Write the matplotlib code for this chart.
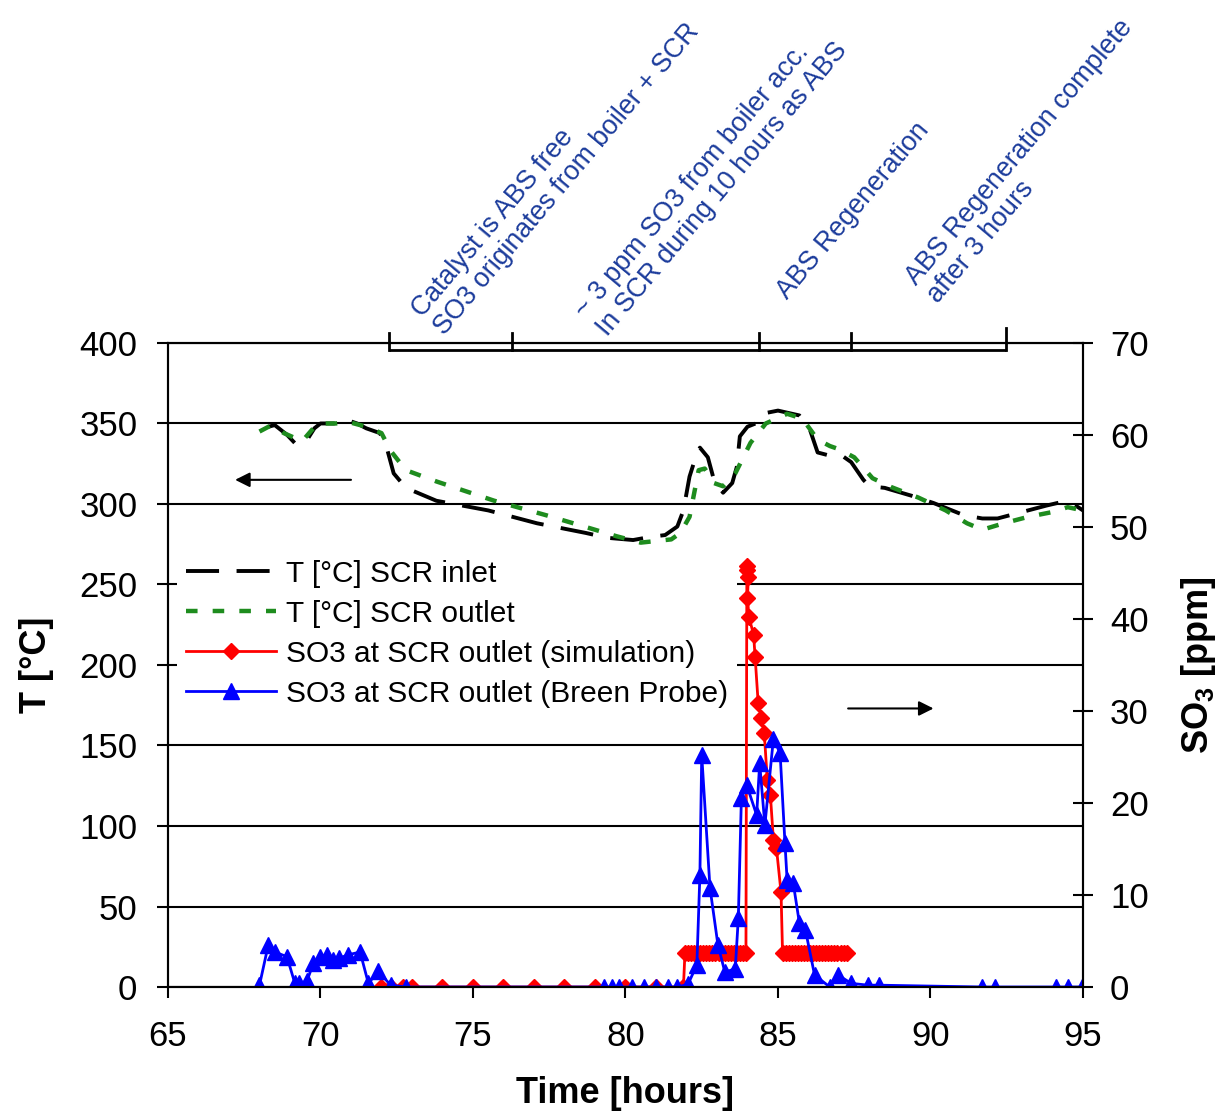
import matplotlib
matplotlib.use("Agg")
import matplotlib.pyplot as plt

plt.rcParams['font.family'] = ['Liberation Sans', 'DejaVu Sans']
plt.rcParams['mathtext.fontset'] = 'custom'
plt.rcParams['mathtext.rm'] = 'Liberation Sans'
plt.rcParams['mathtext.bf'] = 'Liberation Sans:bold'

# SCR inlet temperature [°C]
t_in_h = [68.3, 68.5, 68.9, 69.2, 69.5, 69.8, 70.0, 70.5, 70.9, 71.2, 71.5, 71.95,
          72.2, 72.4, 72.8, 73.8, 75.5, 77.1, 78.7, 79.4, 80.25, 80.8, 81.3, 81.7,
          81.9, 82.1, 82.3, 82.44, 82.7, 82.9, 83.2, 83.5, 83.65, 83.75, 84.0, 84.4,
          84.6, 85.0, 85.7, 86.05, 86.3, 86.7, 87.1, 87.4, 87.8, 88.0, 88.5, 89.4,
          90.1, 91.1, 91.7, 92.2, 93.2, 93.8, 94.25, 94.6, 95.0]
t_in = [348, 349, 343, 337, 338, 347, 350, 350, 352, 350, 347, 344,
        333, 319, 310, 302, 296, 288, 282, 279, 277.6, 279.5, 280.7, 286,
        296, 317, 329, 335, 329, 315, 307, 313, 323, 342, 348, 351,
        356.5, 358, 355, 346, 332, 330, 330, 326, 315, 311, 310, 305,
        300.6, 293, 291, 291, 296, 299, 301, 301, 296]

# SCR outlet temperature [°C]
t_out_h = [68.0, 68.4, 68.8, 69.4, 69.9, 70.5, 70.9, 71.5, 72.0, 72.3, 72.8, 73.8,
           75.7, 77.4, 79.0, 79.7, 80.5, 81.5, 81.8, 82.1, 82.4, 82.6, 82.9, 83.2,
           83.6, 84.1, 84.6, 85.3, 85.8, 86.3, 86.7, 87.0, 87.5, 88.1, 88.7, 89.6,
           90.5, 91.2, 91.7, 92.4, 93.2, 94.0, 94.5, 95.0]
t_out = [345, 349, 344, 339, 350, 350, 351, 348, 344, 333, 321, 314,
         302, 293, 284, 280, 276, 278, 282, 292, 321, 322, 313, 311,
         319, 338, 350, 356, 353, 340, 336, 334, 329, 316, 310.6, 304,
         296, 288, 284, 288, 292, 295, 298, 296]

# SO3 at SCR outlet, simulation [ppm]
sim_h = [72.0, 72.3, 72.7, 73.0, 74.0, 75.0, 76.0, 77.0, 78.0, 79.0, 80.0, 81.0, 81.9,
         81.95, 82.05, 82.15, 82.25, 82.35, 82.45, 82.55, 82.65, 82.75, 82.85, 82.95,
         83.05, 83.15, 83.25, 83.35, 83.45, 83.55, 83.65, 83.75, 83.85, 83.95,
         83.98, 84.0, 84.03, 84.0, 84.05, 84.2, 84.25, 84.35, 84.45, 84.55, 84.65,
         84.75, 84.85, 84.95, 85.1,
         85.15, 85.25, 85.35, 85.45, 85.55, 85.65, 85.75, 85.85, 85.95, 86.05,
         86.15, 86.25, 86.35, 86.45, 86.55, 86.65, 86.75, 86.85, 86.95, 87.05,
         87.15, 87.25]
sim = [0, 0, 0, 0, 0, 0, 0, 0, 0, 0, 0, 0, 0,
       3.7, 3.7, 3.7, 3.7, 3.7, 3.7, 3.7, 3.7, 3.7, 3.7, 3.7,
       3.7, 3.7, 3.7, 3.7, 3.7, 3.7, 3.7, 3.7, 3.7, 3.7,
       45.8, 45.3, 44.6, 42.3, 40.2, 38.3, 35.9, 30.9, 29.2, 27.6, 22.5,
       20.9, 16.0, 15.1, 10.3,
       3.7, 3.7, 3.7, 3.7, 3.7, 3.7, 3.7, 3.7, 3.7, 3.7,
       3.7, 3.7, 3.7, 3.7, 3.7, 3.7, 3.7, 3.7, 3.7, 3.7,
       3.7, 3.7]

# SO3 at SCR outlet, Breen probe [ppm]
probe_h = [68.0, 68.29, 68.5, 68.9, 69.16, 69.3, 69.55, 69.77, 70.0, 70.2, 70.4, 70.6,
           70.9, 71.3, 71.57, 71.9, 72.3, 72.8, 79.3, 79.55, 79.8, 80.2, 80.6, 81.0,
           81.4, 81.7, 82.05, 82.34, 82.44, 82.5, 82.77, 83.03, 83.26, 83.6, 83.7,
           83.8, 83.97, 84.3, 84.4, 84.57, 84.85, 85.07, 85.23, 85.3, 85.5, 85.7,
           85.9, 86.2, 86.7, 86.97, 87.4, 87.95, 88.3, 91.7, 92.1, 94.1, 94.5, 94.97]
probe = [0.2, 4.6, 3.8, 3.3, 0.4, 0.4, 0.6, 2.6, 3.3, 3.5, 2.9, 3.1,
         3.5, 3.8, 0.4, 1.7, 0.2, 0, 0, 0, 0, 0, 0, 0,
         0, 0, 0.3, 2.4, 12.2, 25.2, 10.8, 4.6, 1.6, 2.0, 7.5,
         20.5, 22.0, 18.7, 24.3, 17.6, 27.0, 25.4, 15.6, 11.6, 11.3, 7.0,
         6.2, 1.3, 0, 1.3, 0.4, 0.2, 0.2, 0, 0, 0, 0, 0]

# event bracket above the plot (hours)
bracket_h = [72.25, 76.28, 84.38, 87.39, 92.48]
notes = ["Catalyst is ABS free\nSO3 originates from boiler + SCR",
         "~ 3 ppm SO3 from boiler acc.\nIn SCR during 10 hours as ABS",
         "ABS Regeneration",
         "ABS Regeneration complete\nafter 3 hours"]
note_xy = [(74.2, 402), (79.55, 401), (85.45, 424), (90.4, 422)]

fig = plt.figure(figsize=(12.28, 11.11), dpi=100)
ax = fig.add_axes([0.1368, 0.1116, 0.7451, 0.5797])
ax2 = ax.twinx()

ax.set_xlim(65, 95)
ax.set_ylim(0, 400)
ax2.set_ylim(0, 70)
ax.set_xticks(range(65, 96, 5))
ax.set_yticks(range(0, 401, 50))
ax2.set_yticks(range(0, 71, 10))

ax.set_axisbelow(True)
ax.yaxis.grid(True, color='black', lw=1.5)
for a in (ax, ax2):
    for s in a.spines.values():
        s.set_linewidth(1.5)

ax.tick_params(axis='both', direction='out', length=8, width=1.5, labelsize=25, pad=14)
ax.tick_params(axis='x', pad=16)
ax2.tick_params(axis='y', direction='inout', length=15, width=1.5, labelsize=25, pad=12)

l1, = ax.plot(t_in_h, t_in, color='black', lw=2.8, dashes=(8.5, 4.5),
              label='T [°C] SCR inlet')
l2, = ax.plot(t_out_h, t_out, color='#1e8c1e', lw=3.2, dashes=(2.6, 3.4),
              label='T [°C] SCR outlet')
l3, = ax2.plot(sim_h, sim, color='red', lw=2.0, marker='D', ms=8, mec='red',
               label='SO3 at SCR outlet (simulation)')
l4, = ax2.plot(probe_h, probe, color='blue', lw=2.0, marker='^', ms=11, mec='blue',
               label='SO3 at SCR outlet (Breen Probe)')

ax.set_xlabel('Time [hours]', fontsize=26, fontweight='bold')
ax.set_ylabel('T [°C]', fontsize=26, fontweight='bold')
ax2.set_ylabel(r'SO$_\mathbf{3}$ [ppm]', fontsize=26, fontweight='bold')
ax.xaxis.set_label_coords(0.5, -0.138)
ax.yaxis.set_label_coords(-0.125, 0.5)
ax2.yaxis.set_label_coords(1.105, 0.5)

leg = ax2.legend(handles=[l1, l2, l3, l4], loc='upper left',
                 bbox_to_anchor=(0.01, 0.677), bbox_transform=ax.transAxes,
                 fontsize=21.5, frameon=True, facecolor='white', edgecolor='none',
                 framealpha=1, fancybox=False, handlelength=3.0, handletextpad=0.35,
                 labelspacing=0.4, borderpad=0.3, borderaxespad=0)

# direction arrows for the two y axes
ax.annotate('', xy=(67.2, 315), xytext=(71.0, 315),
            arrowprops=dict(arrowstyle='-|>', color='black', lw=1.5,
                            mutation_scale=22, shrinkA=0, shrinkB=0))
ax.annotate('', xy=(90.1, 173), xytext=(87.3, 173),
            arrowprops=dict(arrowstyle='-|>', color='black', lw=1.5,
                            mutation_scale=22, shrinkA=0, shrinkB=0))

# timeline bracket with event notes
ax.plot([bracket_h[0], bracket_h[-1]], [395.5, 395.5], color='black', lw=2,
        clip_on=False, solid_capstyle='butt')
for i, h in enumerate(bracket_h):
    top = 409 if i == len(bracket_h) - 1 else 406
    ax.plot([h, h], [395.5, top], color='black', lw=2, clip_on=False)
for txt, (x, y) in zip(notes, note_xy):
    ax.text(x, y, txt, rotation=50, rotation_mode='anchor', ha='left', va='bottom',
            fontsize=19.3, color='#1c3c9c', linespacing=1.1, clip_on=False)

fig.savefig('out.png', dpi=100)
